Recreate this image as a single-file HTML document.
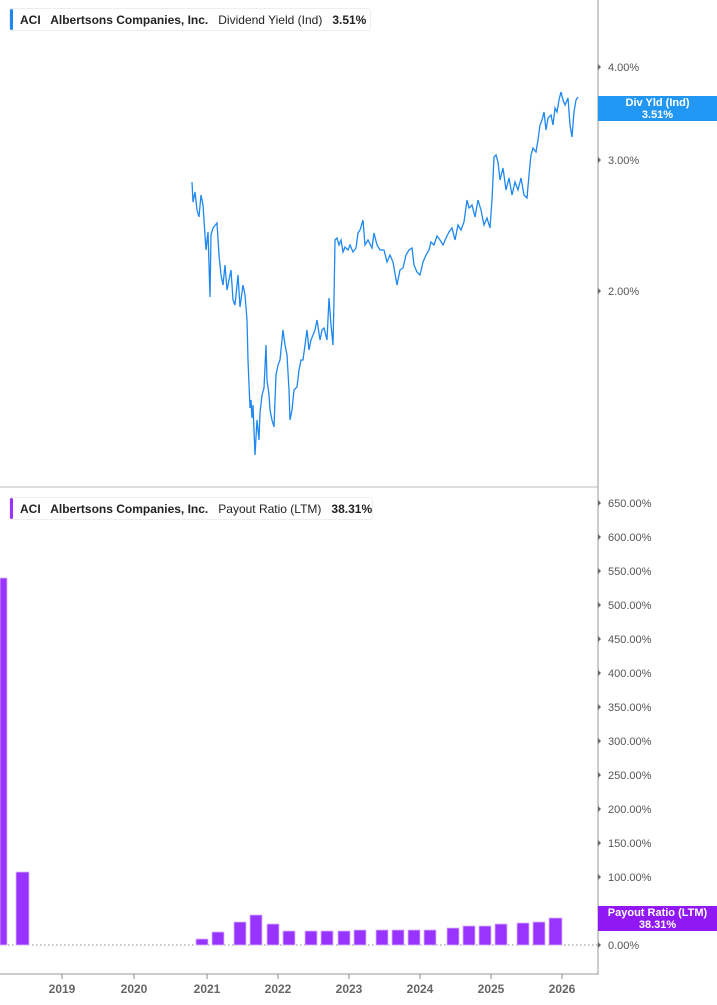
<!DOCTYPE html>
<html><head><meta charset="utf-8"><style>
html,body{margin:0;padding:0;background:#fff;}
body{width:717px;height:1005px;position:relative;overflow:hidden;font-family:"Liberation Sans",sans-serif;}
.leg{position:absolute;left:9px;height:23px;background:#fff;border:1px solid #eee;border-radius:3px;font-size:12px;font-weight:bold;color:#222;line-height:23px;padding-left:10px;white-space:pre;box-sizing:border-box;}
.leg .bar{position:absolute;left:0;top:0;bottom:0;width:3px;border-radius:2px;}
.leg .n{font-weight:normal;}
.ax{position:absolute;left:608px;font-size:11px;color:#555;}
.tag{position:absolute;left:598px;width:119px;color:#fff;font-size:11px;font-weight:bold;text-align:center;line-height:12px;}
.xl{position:absolute;top:982px;font-size:12px;font-weight:bold;color:#666;width:40px;text-align:center;}
</style></head><body>
<svg width="717" height="1005" style="position:absolute;left:0;top:0">
<line x1="0" y1="487" x2="598" y2="487" stroke="#ddd" stroke-width="2"/>
<line x1="598" y1="0" x2="598" y2="975" stroke="#bbb" stroke-width="1.5"/>
<line x1="0" y1="974" x2="598" y2="974" stroke="#bbb" stroke-width="1.5"/>
<g stroke="#888" stroke-width="1">
<line x1="62" y1="974" x2="62" y2="979"/><line x1="134" y1="974" x2="134" y2="979"/><line x1="207" y1="974" x2="207" y2="979"/><line x1="278" y1="974" x2="278" y2="979"/><line x1="349" y1="974" x2="349" y2="979"/><line x1="420" y1="974" x2="420" y2="979"/><line x1="491" y1="974" x2="491" y2="979"/><line x1="562" y1="974" x2="562" y2="979"/>
</g>
<g fill="#666">
<path d="M598 64l3 3-3 3z"/><path d="M598 157l3 3-3 3z"/><path d="M598 288l3 3-3 3z"/>
</g>
<line x1="0" y1="945" x2="598" y2="945" stroke="#888" stroke-dasharray="1.5,2.5"/>
<polyline fill="none" stroke="#1e88f0" stroke-width="1.3" points="192,182 193,202 195,192 197,210 199,217 201,195 203,205 206,250 208,232 210,297 211,235 213,228 217,223 219,255 221,275 223,285 225,265 227,290 229,280 231,270 233,300 235,305 238,275 240,307 243,285 245,295 247,320 248,360 250,408 251,400 252,418 253,405 255,455 257,420 259,440 260,413 262,395 264,388 266,345 267,380 269,395 270,410 272,420 274,427 276,375 278,365 280,360 283,330 285,345 287,355 289,390 290,420 292,410 294,390 297,387 299,370 301,360 303,360 305,345 307,330 309,350 311,340 313,335 315,330 317,320 320,340 322,330 324,328 327,340 329,298 331,325 333,345 334,300 335,240 337,238 339,245 341,240 343,252 345,247 348,250 350,245 353,252 356,248 358,233 360,230 363,220 365,245 368,240 372,248 374,233 377,245 380,250 384,250 387,262 390,255 393,262 397,285 400,270 403,268 406,255 409,250 412,248 414,265 417,272 420,275 423,262 426,255 429,250 431,242 434,245 437,236 440,240 443,245 446,238 449,232 452,228 455,240 458,225 461,230 464,222 467,200 469,208 472,205 475,217 478,200 481,210 484,225 487,218 490,228 492,200 494,157 496,155 498,162 500,180 503,168 506,190 509,178 512,195 515,182 518,190 521,178 524,195 527,198 529,175 531,155 533,148 536,152 538,140 540,125 542,120 544,112 546,130 548,118 551,115 553,125 555,108 557,112 559,100 561,92 563,100 565,105 568,98 570,125 572,137 574,112 576,100 578,97"/>
<g fill="#9933ff" stroke="#d9b8ff" stroke-width="0.8">
<rect x="0" y="578" width="7" height="367"/>
<rect x="16" y="872" width="13" height="73"/>
<rect x="196" y="939" width="12" height="6"/>
<rect x="212" y="932" width="12" height="13"/>
<rect x="234" y="922" width="12" height="23"/>
<rect x="250" y="915" width="12" height="30"/>
<rect x="267" y="924" width="12" height="21"/>
<rect x="283" y="931" width="12" height="14"/>
<rect x="305" y="931" width="12" height="14"/>
<rect x="321" y="931" width="12" height="14"/>
<rect x="338" y="931" width="12" height="14"/>
<rect x="354" y="930" width="12" height="15"/>
<rect x="376" y="930" width="12" height="15"/>
<rect x="392" y="930" width="12" height="15"/>
<rect x="408" y="930" width="12" height="15"/>
<rect x="424" y="930" width="12" height="15"/>
<rect x="447" y="928" width="12" height="17"/>
<rect x="463" y="926" width="12" height="19"/>
<rect x="479" y="926" width="12" height="19"/>
<rect x="495" y="924" width="12" height="21"/>
<rect x="517" y="923" width="12" height="22"/>
<rect x="533" y="922" width="12" height="23"/>
<rect x="549" y="918" width="13" height="27"/>
</g>
<g fill="#666">
<path d="M598 500l3 3-3 3z"/><path d="M598 534l3 3-3 3z"/><path d="M598 568l3 3-3 3z"/><path d="M598 602l3 3-3 3z"/><path d="M598 636l3 3-3 3z"/><path d="M598 670l3 3-3 3z"/><path d="M598 704l3 3-3 3z"/><path d="M598 738l3 3-3 3z"/><path d="M598 772l3 3-3 3z"/><path d="M598 806l3 3-3 3z"/><path d="M598 840l3 3-3 3z"/><path d="M598 874l3 3-3 3z"/><path d="M598 942l3 3-3 3z"/>
</g>
</svg>
<div class="leg" style="top:8px;width:362px;"><span class="bar" style="background:#1e88f0"></span>ACI   Albertsons Companies, Inc.   <span class="n">Dividend Yield (Ind)</span>   3.51%</div>
<div class="leg" style="top:497px;width:364px;"><span class="bar" style="background:#9933ff"></span>ACI   Albertsons Companies, Inc.   <span class="n">Payout Ratio (LTM)</span>   38.31%</div>
<div class="ax" style="top:62px">4.00%</div>
<div class="ax" style="top:155px">3.00%</div>
<div class="ax" style="top:286px">2.00%</div>
<div class="tag" style="top:96px;height:25px;padding-top:1px;box-sizing:border-box;background:#2196f3">Div Yld (Ind)<br>3.51%</div>
<div class="ax" style="top:498px">650.00%</div>
<div class="ax" style="top:532px">600.00%</div>
<div class="ax" style="top:566px">550.00%</div>
<div class="ax" style="top:600px">500.00%</div>
<div class="ax" style="top:634px">450.00%</div>
<div class="ax" style="top:668px">400.00%</div>
<div class="ax" style="top:702px">350.00%</div>
<div class="ax" style="top:736px">300.00%</div>
<div class="ax" style="top:770px">250.00%</div>
<div class="ax" style="top:804px">200.00%</div>
<div class="ax" style="top:838px">150.00%</div>
<div class="ax" style="top:872px">100.00%</div>
<div class="ax" style="top:940px">0.00%</div>
<div class="tag" style="top:906px;height:25px;padding-top:1px;box-sizing:border-box;background:#9118f5">Payout Ratio (LTM)<br>38.31%</div>
<div class="xl" style="left:42px">2019</div>
<div class="xl" style="left:114px">2020</div>
<div class="xl" style="left:187px">2021</div>
<div class="xl" style="left:258px">2022</div>
<div class="xl" style="left:329px">2023</div>
<div class="xl" style="left:400px">2024</div>
<div class="xl" style="left:471px">2025</div>
<div class="xl" style="left:542px">2026</div>
</body></html>
